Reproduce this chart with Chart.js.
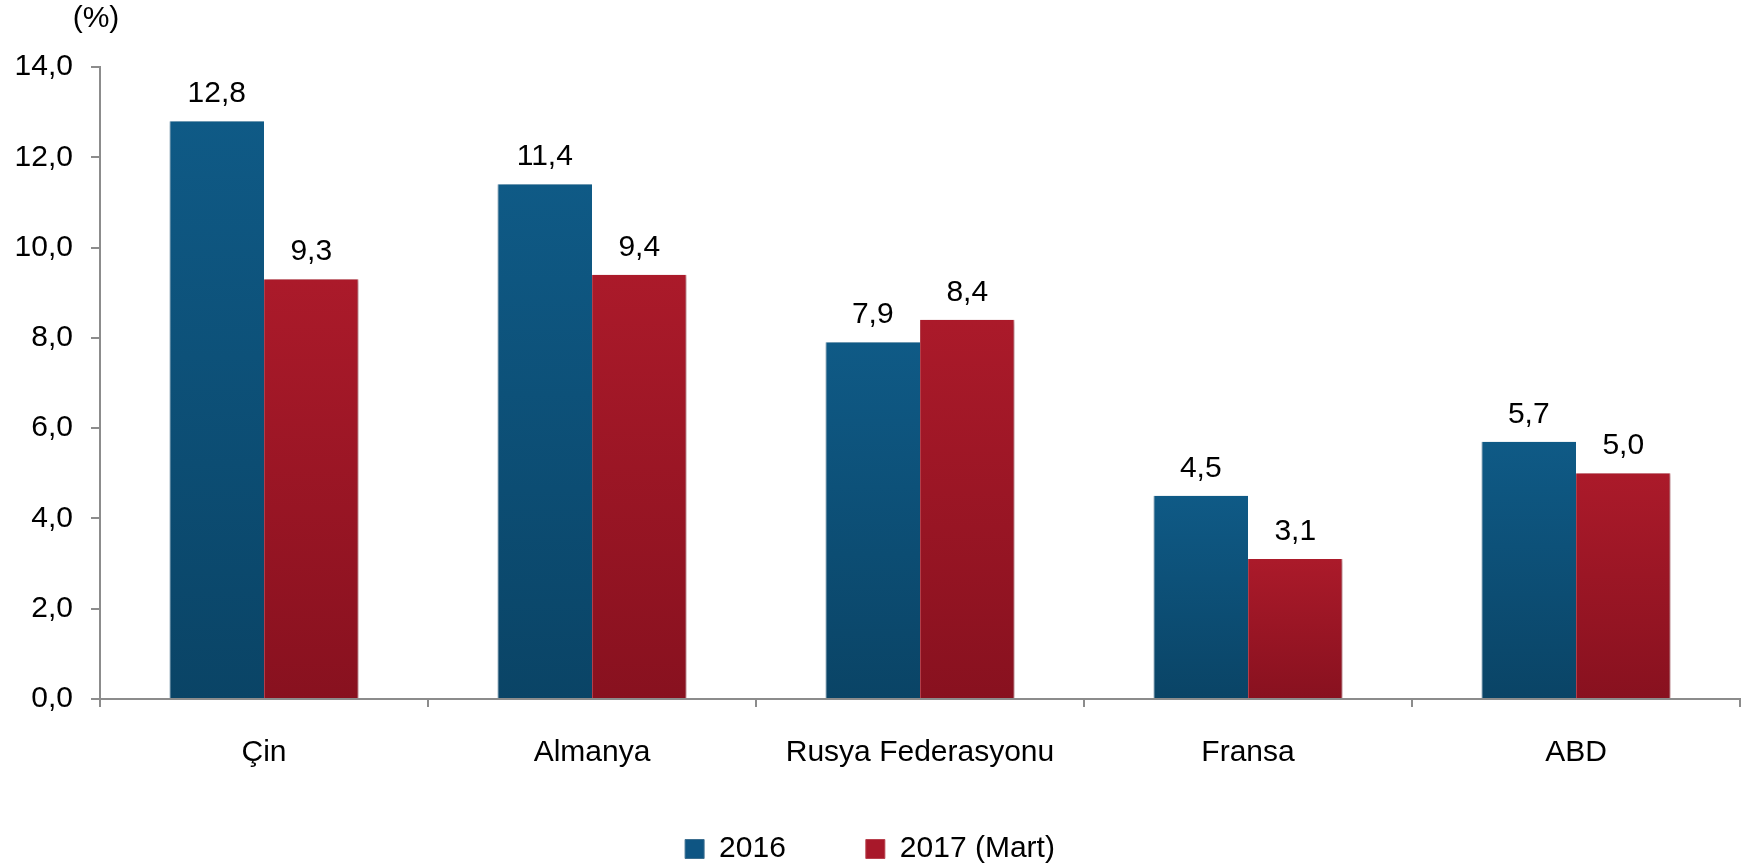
<!DOCTYPE html>
<html>
<head>
<meta charset="utf-8">
<script src="https://cdn.jsdelivr.net/npm/chart.js@4"></script>
<style>
  html, body { margin: 0; padding: 0; background: #fff; }
  #wrap { width: 1746px; height: 867px; }
</style>
</head>
<body>
<div id="wrap"><canvas id="chart" width="1746" height="867"></canvas></div>
<script>
const categories = ["Çin", "Almanya", "Rusya Federasyonu", "Fransa", "ABD"];
const values2016 = [12.8, 11.4, 7.9, 4.5, 5.7];
const values2017 = [9.3, 9.4, 8.4, 3.1, 5.0];
const seriesNames = ["2016", "2017 (Mart)"];
const yTicks = [0, 2, 4, 6, 8, 10, 12, 14];

const FONT = "'Liberation Sans', Arial, sans-serif";
const fmt = (v) => v.toFixed(1).replace(".", ",");

// vertical gradient per bar, from its top down to the base
function barGradient(top, bottom) {
  return (ctx) => {
    const chart = ctx.chart;
    if (!chart.chartArea || ctx.dataIndex === undefined) return top;
    const y = chart.scales.y;
    const v = ctx.dataset.data[ctx.dataIndex];
    const g = chart.ctx.createLinearGradient(0, y.getPixelForValue(v), 0, y.getPixelForValue(0));
    g.addColorStop(0, top);
    g.addColorStop(1, bottom);
    return g;
  };
}

const barShadow = {
  id: "barShadow",
  beforeDatasetsDraw(chart) {
    const c = chart.ctx;
    c.save();
    c.shadowColor = "rgba(0,0,0,0.28)";
    c.shadowBlur = 5;
    c.shadowOffsetX = 2;
    c.shadowOffsetY = 1;
  },
  afterDatasetsDraw(chart) {
    chart.ctx.restore();
  },
};

const valueLabels = {
  id: "valueLabels",
  afterDatasetsDraw(chart) {
    const c = chart.ctx;
    c.save();
    c.font = "30px " + FONT;
    c.fillStyle = "#000";
    c.textAlign = "center";
    c.textBaseline = "alphabetic";
    chart.data.datasets.forEach((ds, i) => {
      chart.getDatasetMeta(i).data.forEach((bar, j) => {
        c.fillText(fmt(ds.data[j]), bar.x, bar.y - 19);
      });
    });
    // unit label above the y axis
    c.textBaseline = "middle";
    c.fillText("(%)", 96, 19);
    c.restore();
  },
};

new Chart(document.getElementById("chart"), {
  type: "bar",
  data: {
    labels: categories,
    datasets: [
      {
        label: seriesNames[0],
        data: values2016,
        backgroundColor: barGradient("#0f5a86", "#0a4466"),
        borderColor: "#3d6f90",
        borderWidth: { left: 1, right: 0, top: 0, bottom: 0 },
      },
      {
        label: seriesNames[1],
        data: values2017,
        backgroundColor: barGradient("#ab1a2a", "#88111f"),
        borderColor: "#b8404d",
        borderWidth: { left: 1, right: 1, top: 0, bottom: 0 },
      },
    ],
  },
  options: {
    responsive: false,
    animation: false,
    devicePixelRatio: 1,
    categoryPercentage: 0.576,
    barPercentage: 1,
    layout: { padding: { top: 67, right: 6, left: 0, bottom: -7 } },
    scales: {
      x: {
        grid: {
          offset: true,
          drawOnChartArea: false,
          color: "#8c8c8c",
          lineWidth: 2,
          tickLength: 8,
        },
        border: { color: "#8c8c8c", width: 2 },
        ticks: { color: "#000", font: { size: 30, family: FONT }, padding: 28, maxRotation: 0 },
        afterFit(scale) { scale.height = 115; },
      },
      y: {
        min: 0,
        max: 14,
        afterBuildTicks(scale) { scale.ticks = yTicks.map((v) => ({ value: v })); },
        grid: { drawOnChartArea: false, color: "#8c8c8c", lineWidth: 2, tickLength: 9 },
        border: { color: "#8c8c8c", width: 2 },
        ticks: { color: "#000", font: { size: 30, family: FONT }, padding: 18, callback: (v) => fmt(v) },
        afterFit(scale) { scale.width = 100; },
      },
    },
    plugins: {
      tooltip: { enabled: false },
      legend: {
        position: "bottom",
        labels: {
          color: "#000",
          font: { size: 30, family: FONT },
          boxWidth: 19,
          boxHeight: 19,
          padding: 20,
          generateLabels() {
            return [
              // em spaces widen the gap between the two entries
              { text: seriesNames[0] + "\u2003\u2003", fillStyle: "#0e5583", strokeStyle: "#3d6f90", lineWidth: 1, datasetIndex: 0 },
              { text: seriesNames[1], fillStyle: "#a8182a", strokeStyle: "#b8404d", lineWidth: 1, datasetIndex: 1 },
            ];
          },
        },
      },
    },
  },
  plugins: [barShadow, valueLabels],
});
</script>
</body>
</html>
